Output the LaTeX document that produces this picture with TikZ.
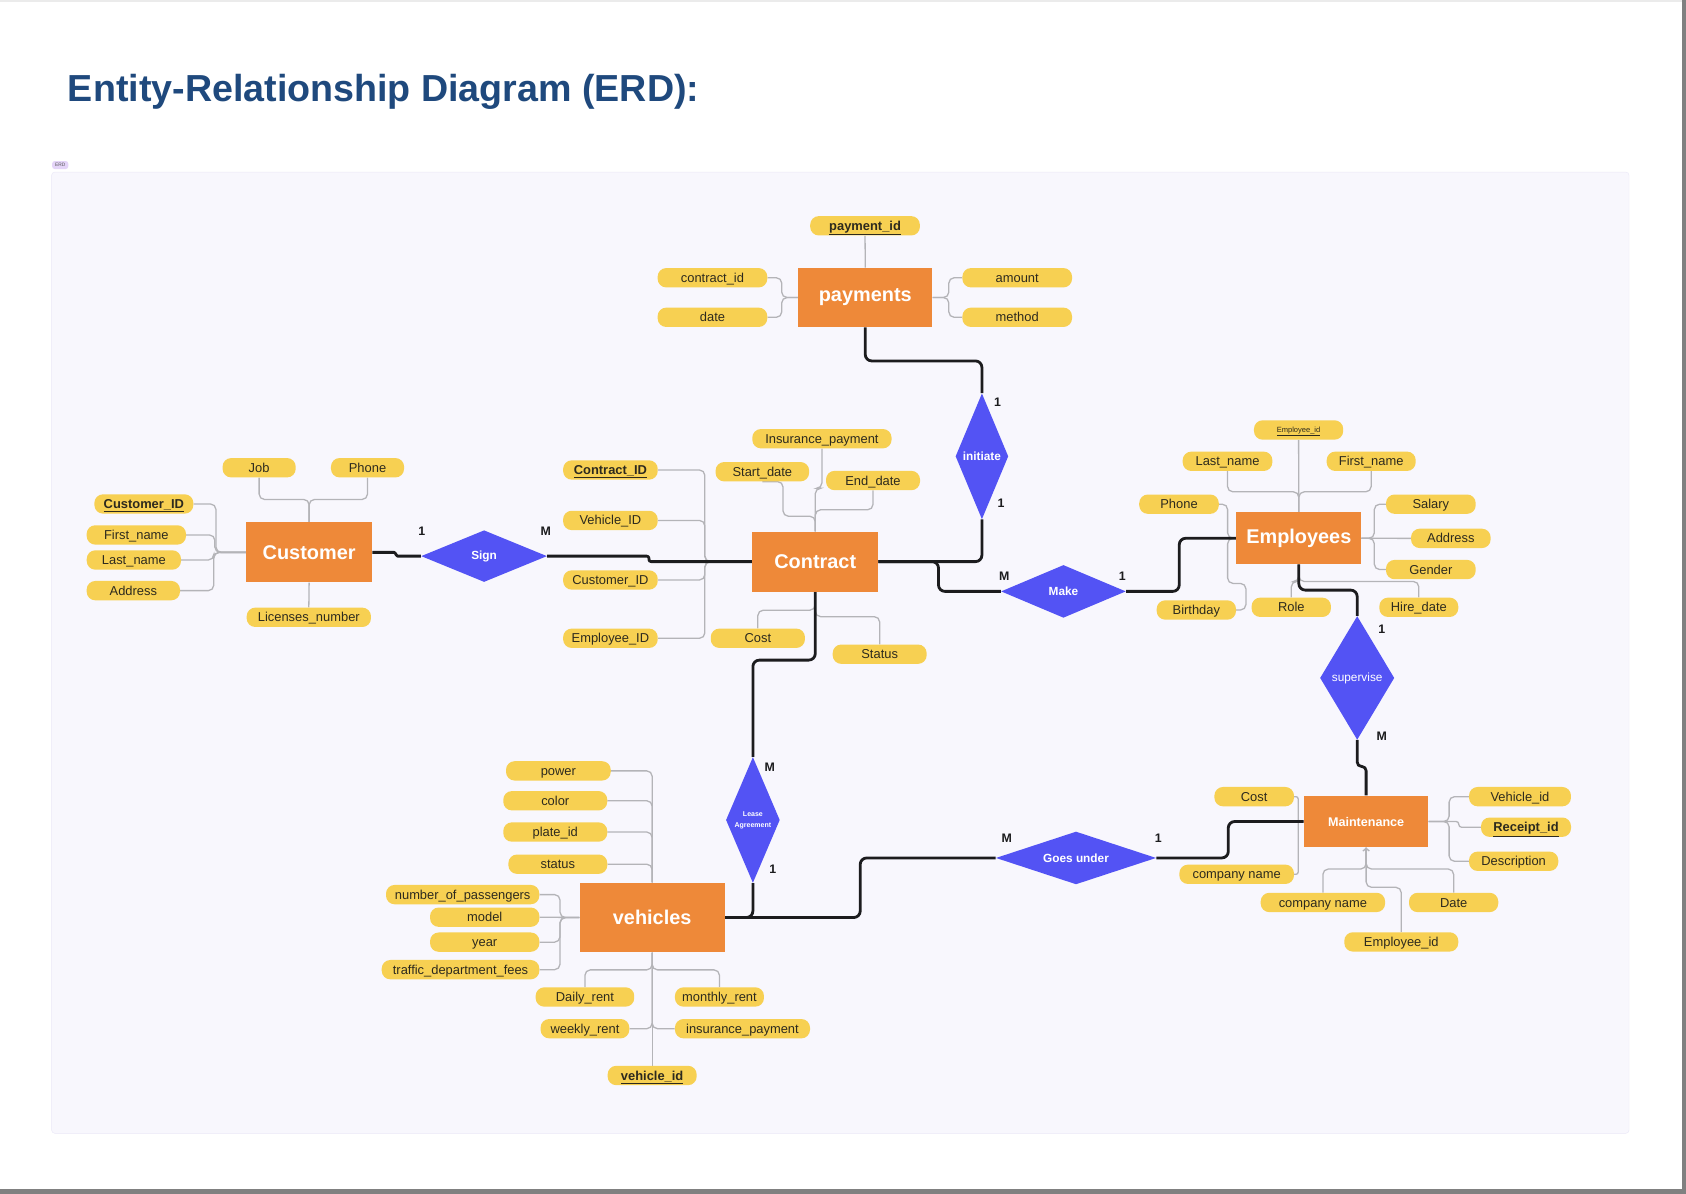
\documentclass[tikz,border=0pt]{standalone}
\usepackage{fontspec}
\setmainfont{Liberation Sans}
\usepackage{tikz}
\usetikzlibrary{shapes.geometric, backgrounds, calc, arrows.meta}
\usepackage{xcolor}
\definecolor{titleblue}{RGB}{31, 73, 125}
\definecolor{panelbg}{RGB}{248, 247, 253}
\definecolor{panelline}{RGB}{234, 232, 247}
\definecolor{tagbg}{RGB}{228, 212, 248}
\definecolor{entityorange}{RGB}{238, 137, 57}
\definecolor{relblue}{RGB}{83, 83, 244}
\definecolor{attryellow}{RGB}{247, 208, 82}
\definecolor{attrtext}{RGB}{45, 42, 30}
\definecolor{linkgray}{RGB}{180, 180, 184}
\definecolor{linkblack}{RGB}{28, 28, 30}
\definecolor{framegray}{RGB}{128, 128, 128}
\tikzset{
    entity/.style={rectangle, fill=entityorange, text=white, inner sep=0pt,
        font=\fontsize{18.5}{20}\selectfont\bfseries},
    relation/.style={diamond, fill=relblue, text=white, inner sep=0pt, align=center,
        font=\fontsize{11}{13}\selectfont\bfseries},
    attr/.style={rectangle, rounded corners=8pt, fill=attryellow, text=attrtext,
        minimum height=18pt, inner sep=0pt, text height=10.5pt, text depth=2pt,
        font=\fontsize{12}{14}\selectfont},
    keyattr/.style={attr, font=\fontsize{12}{14}\selectfont\bfseries},
    card/.style={inner sep=0pt, text=linkblack, font=\fontsize{11.5}{13}\selectfont\bfseries},
    % thin lines to the attributes, thick lines to the relations
    attrline/.style={draw=linkgray, line width=1.2pt, rounded corners=5pt},
    relline/.style={draw=linkblack, line width=2.6pt, line join=round, rounded corners=6pt},
}

\begin{document}
\begin{tikzpicture}[x=1pt, y=-1pt]
        \useasboundingbox (0, 0) rectangle (1568, 1110);
        \begin{scope}[on background layer]
            \fill[white] (0, 0) rectangle (1568, 1110);
            \fill[black!8] (0, 0) rectangle (1564, 2);
            \fill[framegray] (1564, 0) rectangle (1568, 1110);
            \fill[framegray] (0, 1106) rectangle (1568, 1110);
            \filldraw[fill=panelbg, draw=panelline, rounded corners=3pt] (48, 160) rectangle (1515, 1054);
        \end{scope}

        \node (title) [anchor=base west, inner sep=0pt, text=titleblue, font=\fontsize{35}{40}\selectfont\bfseries] at (63, 94) {Entity-Relationship Diagram (ERD):};
        \node (tag) [fill=tagbg, rounded corners=2.5pt, inner sep=0pt, minimum width=15, minimum height=7.5, text=black!65, font=\fontsize{4.5}{5}\selectfont] at (56, 153.5) {ERD};

        % entities
        \node (payments) [entity, minimum width=125, minimum height=55] at (804.7, 276.7) {payments};
        \node (customer) [entity, minimum width=117, minimum height=56] at (287.5, 513.7) {Customer};
        \node (contract) [entity, minimum width=117, minimum height=56] at (758.2, 522.3) {Contract};
        \node (employees) [entity, minimum width=116, minimum height=48] at (1207.9, 500.6) {Employees};
        \node (vehicles) [entity, minimum width=135, minimum height=65] at (606.5, 853.3) {vehicles};
        \node (maintenance) [entity, minimum width=116, minimum height=48, font=\fontsize{11.7}{13}\selectfont\bfseries] at (1270.5, 764) {Maintenance};

        % relations
        \node (sign) [relation, aspect=3, minimum width=117, minimum height=48] at (450.2, 517.2) {Sign};
        \node (initiate) [relation, aspect=0.4, minimum width=49, minimum height=117] at (913.2, 424.4) {initiate};
        \node (make) [relation, aspect=3, minimum width=116, minimum height=49] at (989, 550) {Make};
        \node (supervise) [relation, aspect=0.6, minimum width=69, minimum height=115, font=\fontsize{11}{13}\selectfont] at (1262.2, 630.5) {supervise};
        \node (lease) [relation, aspect=0.4, minimum width=50, minimum height=117, font=\fontsize{6.5}{10}\selectfont\bfseries] at (700.2, 762.6) {Lease\\Agreement};
        \node (goesunder) [relation, aspect=3, minimum width=149, minimum height=49] at (1000.7, 797.9) {Goes under};

        % payments attributes
        \node (paymentid) [keyattr, minimum width=102] at (804.5, 210) {\underline{payment\_id}};
        \node (paycontract) [attr, minimum width=102] at (662.6, 258.3) {contract\_id};
        \node (paydate) [attr, minimum width=102] at (662.6, 295.1) {date};
        \node (amount) [attr, minimum width=102] at (946, 258.3) {amount};
        \node (method) [attr, minimum width=102] at (946, 295.1) {method};

        % customer attributes
        \node (job) [attr, minimum width=68] at (241, 435) {Job};
        \node (custphone) [attr, minimum width=68] at (341.8, 435) {Phone};
        \node (custid) [keyattr, minimum width=92] at (133.8, 468.7) {\underline{Customer\_ID}};
        \node (firstname) [attr, minimum width=92.4] at (126.8, 497.5) {First\_name};
        \node (lastname) [attr, minimum width=87.7] at (124.5, 520.8) {Last\_name};
        \node (custaddress) [attr, minimum width=86.8] at (124, 549.3) {Address};
        \node (licenses) [attr, minimum width=115.6] at (287.2, 574.1) {Licenses\_number};

        % contract attributes
        \node (contractid) [keyattr, minimum width=88] at (567.7, 437.1) {\underline{Contract\_ID}};
        \node (convehicle) [attr, minimum width=88] at (567.7, 484) {Vehicle\_ID};
        \node (concustomer) [attr, minimum width=88] at (567.7, 539.4) {Customer\_ID};
        \node (conemployee) [attr, minimum width=88] at (567.7, 593.6) {Employee\_ID};
        \node (insurance) [attr, minimum width=129.5] at (764.4, 408) {Insurance\_payment};
        \node (startdate) [attr, minimum width=87] at (709, 438.7) {Start\_date};
        \node (enddate) [attr, minimum width=87.4] at (811.9, 446.9) {End\_date};
        \node (concost) [attr, minimum width=87.6] at (704.8, 593.6) {Cost};
        \node (status) [attr, minimum width=87.4] at (818.1, 608.4) {Status};

        % employees attributes
        \node (empid) [attr, minimum width=83, text height=5.5pt, text depth=1.5pt, font=\fontsize{7}{8}\selectfont] at (1207.7, 399.9) {\underline{Employee\_id}};
        \node (emplast) [attr, minimum width=83.4] at (1141.6, 429) {Last\_name};
        \node (empfirst) [attr, minimum width=82.8] at (1275.2, 429) {First\_name};
        \node (empphone) [attr, minimum width=74] at (1096.5, 468.9) {Phone};
        \node (salary) [attr, minimum width=83.4] at (1330.7, 468.9) {Salary};
        \node (empaddress) [attr, minimum width=74] at (1349.3, 500.7) {Address};
        \node (gender) [attr, minimum width=83.4] at (1330.7, 529.7) {Gender};
        \node (birthday) [attr, minimum width=73.8] at (1112.6, 567.3) {Birthday};
        \node (role) [attr, minimum width=73.8] at (1200.9, 564.8) {Role};
        \node (hiredate) [attr, minimum width=73.4] at (1319.5, 564.8) {Hire\_date};

        % maintenance attributes
        \node (maincost) [attr, minimum width=74] at (1166.4, 740.9) {Cost};
        \node (maincompany) [attr, minimum width=106.6] at (1150.1, 813.1) {company name};
        \node (mainvehicle) [attr, minimum width=94.8] at (1413.6, 740.9) {Vehicle\_id};
        \node (receipt) [keyattr, minimum width=83.7] at (1419.2, 769.3) {\underline{Receipt\_id}};
        \node (description) [attr, minimum width=83] at (1407.7, 801) {Description};
        \node (maincompanyb) [attr, minimum width=115.7] at (1230.3, 839.3) {company name};
        \node (maindate) [attr, minimum width=83] at (1351.9, 839.3) {Date};
        \node (mainemployee) [attr, minimum width=106] at (1303.2, 876) {Employee\_id};

        % vehicles attributes
        \node (power) [attr, minimum width=97.4] at (519.3, 716.9) {power};
        \node (color) [attr, minimum width=96.7] at (516.4, 744.7) {color};
        \node (plate) [attr, minimum width=96.7] at (516.4, 773.8) {plate\_id};
        \node (vstatus) [attr, minimum width=92] at (518.8, 803.7) {status};
        \node (passengers) [attr, minimum width=142.6] at (430.3, 832) {number\_of\_passengers};
        \node (model) [attr, minimum width=101.7] at (450.8, 853) {model};
        \node (year) [attr, minimum width=101.7] at (450.8, 876.2) {year};
        \node (traffic) [attr, minimum width=146.6] at (428.3, 901.8) {traffic\_department\_fees};
        \node (daily) [attr, minimum width=91.7] at (544, 927.2) {Daily\_rent};
        \node (monthly) [attr, minimum width=82.8] at (669.1, 927.2) {monthly\_rent};
        \node (weekly) [attr, minimum width=82.5] at (544, 956.7) {weekly\_rent};
        \node (vinsurance) [attr, minimum width=125.6] at (690.5, 956.7) {insurance\_payment};
        \node (vehicleid) [keyattr, minimum width=82.8] at (606.5, 1000.2) {\underline{vehicle\_id}};

        % cardinalities
        \node (signleft) [card] at (392.2, 494.5) {1};
        \node (signright) [card] at (507.5, 494.5) {M};
        \node (initiatetop) [card] at (927.8, 374.2) {1};
        \node (initiatebottom) [card] at (930.9, 468) {1};
        \node (makeleft) [card] at (934, 535.7) {M};
        \node (makeright) [card] at (1043.7, 535.7) {1};
        \node (supervisetop) [card] at (1285, 585.5) {1};
        \node (supervisebottom) [card] at (1285, 685) {M};
        \node (leasetop) [card] at (716, 714) {M};
        \node (leasebottom) [card] at (718.6, 808.4) {1};
        \node (goesleft) [card] at (936.2, 779.6) {M};
        \node (goesright) [card] at (1077.2, 779.6) {1};

        \begin{scope}[on background layer]
            % payments
            \draw[attrline] (paymentid.south) -- (payments.north);
            \draw[attrline] (paycontract.east) -| ([xshift=-15]payments.west) -- (payments.west);
            \draw[attrline] (paydate.east) -| ([xshift=-15]payments.west) -- (payments.west);
            \draw[attrline] (amount.west) -| ([xshift=15]payments.east) -- (payments.east);
            \draw[attrline] (method.west) -| ([xshift=15]payments.east) -- (payments.east);
            % customer
            \draw[attrline] (job.south) |- ([yshift=21]customer.north) -- (customer.north);
            \draw[attrline] (custphone.south) |- ([yshift=21]customer.north) -- (customer.north);
            \draw[attrline] (custid.east) -| ([xshift=-28]customer.west) -- (customer.west);
            \draw[attrline] (firstname.east) -| ([xshift=-29]customer.west) -- (customer.west);
            \draw[attrline] (lastname.east) -| ([xshift=-30]customer.west) -- (customer.west);
            \draw[attrline] (custaddress.east) -| ([xshift=-30]customer.west) -- (customer.west);
            \draw[attrline] (licenses.north) -- (customer.south);
            % contract
            \draw[attrline] (contractid.east) -| ([xshift=-44]contract.west) -- (contract.west);
            \draw[attrline] (convehicle.east) -| ([xshift=-44]contract.west) -- (contract.west);
            \draw[attrline] (concustomer.east) -| ([xshift=-44]contract.west) -- (contract.west);
            \draw[attrline] (conemployee.east) -| ([xshift=-44]contract.west) -- (contract.west);
            \draw[attrline] (insurance.south) |- ([yshift=40]contract.north) -- (contract.north);
            \draw[attrline] (startdate.south) -| ([xshift=-30, yshift=14]contract.north) -| (contract.north);
            \draw[attrline] (enddate.south) |- ([yshift=20]contract.north) -- (contract.north);
            \draw[attrline] (concost.north) |- ([yshift=-17]contract.south) -- (contract.south);
            \draw[attrline] (status.north) |- ([yshift=-23]contract.south) -- (contract.south);
            % employees
            \draw[attrline] (empid.south) -- (employees.north);
            \draw[attrline] (emplast.south) |- ([yshift=19]employees.north) -- (employees.north);
            \draw[attrline] (empfirst.south) |- ([yshift=19]employees.north) -- (employees.north);
            \draw[attrline] (empphone.east) -| ([xshift=-8]employees.west) -- (employees.west);
            \draw[attrline] (birthday.east) -| ([xshift=9, yshift=-42]employees.west) -| ([xshift=-8]employees.west) -- (employees.west);
            \draw[attrline] (salary.west) -| ([xshift=12]employees.east) -- (employees.east);
            \draw[attrline] (empaddress.west) -- (employees.east);
            \draw[attrline] (gender.west) -| ([xshift=12]employees.east) -- (employees.east);
            \draw[attrline] (role.north) |- ([yshift=-16]employees.south) -- (employees.south);
            \draw[attrline] (hiredate.north) |- ([yshift=-16]employees.south) -- (employees.south);
            % maintenance
            \draw[attrline, rounded corners=2pt] (maincost.east) -| ([xshift=-5]maintenance.west) -- (maintenance.west);
            \draw[attrline, rounded corners=2pt] (maincompany.east) -| ([xshift=-5]maintenance.west) -- (maintenance.west);
            \draw[attrline] (mainvehicle.west) -| ([xshift=19]maintenance.east) -- (maintenance.east);
            \draw[attrline, rounded corners=2.5pt] (receipt.west) -| ([xshift=28]maintenance.east) -- (maintenance.east);
            \draw[attrline] (description.west) -| ([xshift=19]maintenance.east) -- (maintenance.east);
            \draw[attrline] (maincompanyb.north) |- ([yshift=-20]maintenance.south) -- (maintenance.south);
            \draw[attrline] (maindate.north) |- ([yshift=-20]maintenance.south) -- (maintenance.south);
            \draw[attrline, -{Straight Barb[length=2.5pt, width=6pt]}] (mainemployee.north) |- ([yshift=-37]maintenance.south) -- (maintenance.south);
            % vehicles
            \draw[attrline] (power.east) -| (vehicles.north);
            \draw[attrline] (color.east) -| (vehicles.north);
            \draw[attrline] (plate.east) -| (vehicles.north);
            \draw[attrline] (vstatus.east) -| (vehicles.north);
            \draw[attrline] (passengers.east) -| ([xshift=-18]vehicles.west) -- (vehicles.west);
            \draw[attrline] (model.east) -- (vehicles.west);
            \draw[attrline] (year.east) -| ([xshift=-18]vehicles.west) -- (vehicles.west);
            \draw[attrline] (traffic.east) -| ([xshift=-18]vehicles.west) -- (vehicles.west);
            \draw[attrline] (daily.north) |- ([yshift=-16]vehicles.south) -- (vehicles.south);
            \draw[attrline] (monthly.north) |- ([yshift=-16]vehicles.south) -- (vehicles.south);
            \draw[attrline] (weekly.east) -| (vehicles.south);
            \draw[attrline] (vinsurance.west) -| (vehicles.south);
            \draw[attrline] (vehicleid.north) -- (vehicles.south);

            % relations
            \draw[relline, rounded corners=1.5pt] (customer.east) -- ([xshift=22]customer.east) |- (sign.west);
            \draw[relline, rounded corners=2pt] (sign.east) -| ([xshift=-96]contract.west) -- (contract.west);
            \draw[relline] (payments.south) |- ([yshift=30]initiate.north) -- (initiate.north);
            \draw[relline] (initiate.south) |- (contract.east);
            \draw[relline] (contract.east) -| ([xshift=-58]make.west) -- (make.west);
            \draw[relline] (make.east) -| ([xshift=-53]employees.west) -- (employees.west);
            \draw[relline] (employees.south) |- ([yshift=24]supervise.north) -- (supervise.north);
            \draw[relline, rounded corners=4pt] (supervise.south) |- ([yshift=27]maintenance.north) -- (maintenance.north);
            \draw[relline] (contract.south) |- ([yshift=90]lease.north) -- (lease.north);
            \draw[relline] (lease.south) |- (vehicles.east);
            \draw[relline] (vehicles.east) -| ([xshift=-126]goesunder.west) -- (goesunder.west);
            \draw[relline] (goesunder.east) -| ([xshift=-70]maintenance.west) -- (maintenance.west);
        \end{scope}
    \end{tikzpicture}
\end{document}
